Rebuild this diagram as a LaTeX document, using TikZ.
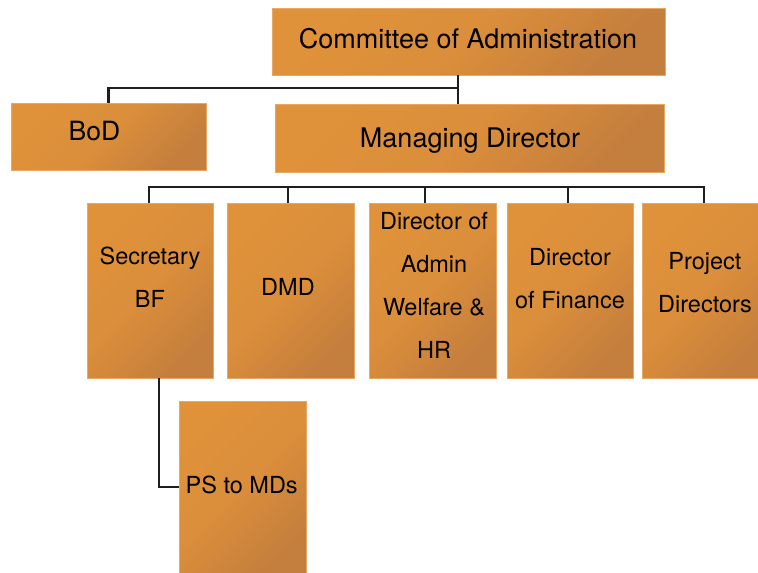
\documentclass[tikz,border=0pt]{standalone}
\usepackage{fontspec}
\setmainfont{TeX Gyre Heros}
\definecolor{boxlight}{HTML}{E0923A}
\definecolor{boxdark}{HTML}{C47E3D}
\definecolor{boxedge}{HTML}{E6A864}
\definecolor{wire}{HTML}{1E1E1E}
\tikzset{
  orgbox/.style={rectangle, inner sep=0pt, draw=boxedge, line width=0.5pt,
    top color=boxlight, bottom color=boxdark, middle color=boxlight!80!boxdark, shading angle=45},
  widebox/.style={orgbox, minimum width=#1, minimum height=67pt},
  tallbox/.style={orgbox, minimum width=127pt, minimum height=175pt},
  bigtext/.style={inner sep=0pt, font=\fontsize{27}{32}\selectfont, text=black},
  smalltext/.style={inner sep=0pt, font=\fontsize{23.5}{43}\selectfont, align=center, text=black},
  wireline/.style={draw=wire, line width=2.8pt}
}
\begin{document}
\begin{tikzpicture}[x=1pt, y=-1pt]
\useasboundingbox (0,0) rectangle (758,573);
\clip (0,0) rectangle (758,573);
\fill[white] (0,0) rectangle (758,573);

% boxes
\node[widebox=393pt] (com) at (468.5,41.5) {};
\node[widebox=195pt] (bod) at (108.5,136.5) {};
\node[widebox=389pt, minimum height=68pt] (md) at (469.5,138) {};
\node[tallbox, minimum width=126pt] (sec) at (150,290.5) {};
\node[tallbox] (dmd) at (290.5,290.5) {};
\node[tallbox] (adm) at (432.5,290.5) {};
\node[tallbox, minimum width=126pt] (fin) at (570,290.5) {};
\node[tallbox] (proj) at (705.5,290.5) {};
\node[tallbox] (ps) at (242.5,488.5) {};

% texts
\node[bigtext, anchor=base] (tcom) at (468,48) {Committee of Administration};
\node[bigtext, anchor=base, font=\fontsize{26.5}{32}\selectfont] (tbod) at (94.5,140) {BoD};
\node[bigtext, anchor=base] (tmd) at (470,147) {Managing Director};
\node[smalltext] (tsec) at (150,277) {Secretary\\BF};
\node[smalltext, anchor=base] (tdmd) at (288,295) {DMD};
\node[smalltext] (tadm) at (434,285) {Director of\\Admin\\Welfare \&\\HR};
\node[smalltext] (tfin) at (570,279) {Director\\of Finance};
\node[smalltext] (tproj) at (705,283) {Project\\Directors};
\node[smalltext, anchor=base] (tps) at (241.7,493) {PS to MDs};

% connectors, top level
\coordinate (j1) at (458,88);
\draw[wireline] (bod.north) |- (j1);
\draw[wireline] (j1 |- com.south) -- (j1 |- md.north);

% connectors, second level
\coordinate (b1) at (149,187);
\coordinate (b2) at (288,187);
\coordinate (b3) at (425,187);
\coordinate (b4) at (568,187);
\coordinate (b5) at (704,187);
\draw[wireline] (b1 |- sec.north) -- (b1) -- (b5) -- (b5 |- proj.north);
\draw[wireline] (b2) -- (b2 |- dmd.north);
\draw[wireline] (b3) -- (b3 |- adm.north);
\draw[wireline] (b4) -- (b4 |- fin.north);

% secretary to PS
\coordinate (k) at (159,487);
\draw[wireline] (k |- sec.south) -- (k) -- (k -| ps.west);
\end{tikzpicture}
\end{document}
